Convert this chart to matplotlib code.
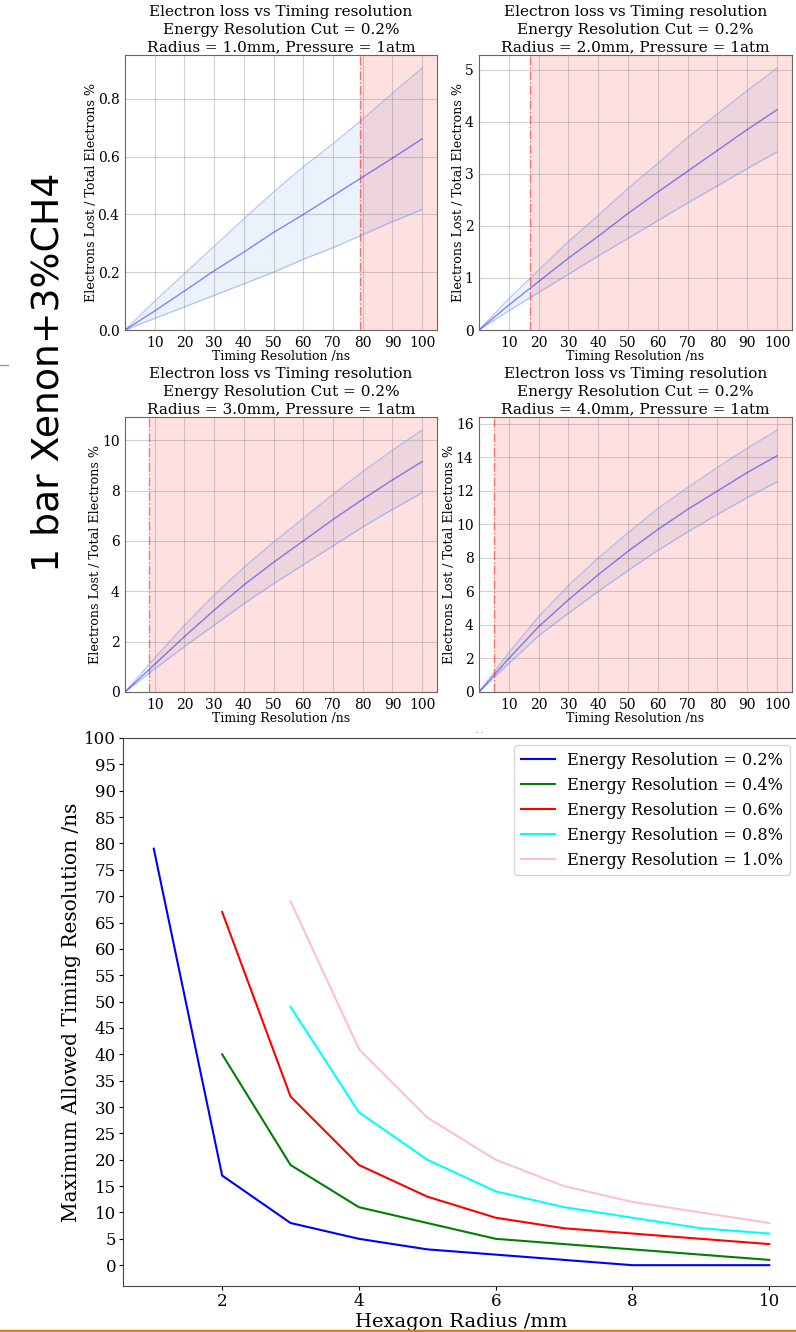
import numpy as np
from matplotlib import pyplot as plt
from matplotlib.lines import Line2D

plt.rcParams['font.family'] = ['DejaVu Serif']

# timing resolution samples (ns) for the electron loss curves
timing = [0, 10, 20, 30, 40, 50, 60, 70, 80, 90, 100]

radii = [1.0, 2.0, 3.0, 4.0]
cuts = [79, 17, 8, 5]

loss_mean = [
	[0, 0.066, 0.135, 0.205, 0.27, 0.338, 0.40, 0.465, 0.53, 0.595, 0.662],
	[0, 0.48, 0.93, 1.38, 1.80, 2.24, 2.65, 3.05, 3.45, 3.85, 4.23],
	[0, 1.10, 2.20, 3.25, 4.25, 5.15, 6.00, 6.85, 7.65, 8.42, 9.15],
	[0, 2.00, 3.90, 5.50, 7.00, 8.40, 9.70, 10.90, 12.00, 13.10, 14.10],
]
loss_upper = [
	[0, 0.10, 0.195, 0.29, 0.385, 0.478, 0.565, 0.645, 0.73, 0.82, 0.907],
	[0, 0.60, 1.15, 1.70, 2.20, 2.72, 3.20, 3.70, 4.15, 4.60, 5.03],
	[0, 1.35, 2.65, 3.85, 4.95, 5.95, 6.90, 7.85, 8.75, 9.60, 10.40],
	[0, 2.35, 4.50, 6.35, 8.00, 9.50, 10.95, 12.20, 13.40, 14.55, 15.63],
]
loss_lower = [
	[0, 0.04, 0.08, 0.12, 0.16, 0.20, 0.245, 0.285, 0.33, 0.375, 0.417],
	[0, 0.37, 0.72, 1.07, 1.42, 1.76, 2.10, 2.44, 2.77, 3.10, 3.42],
	[0, 0.92, 1.80, 2.65, 3.50, 4.30, 5.05, 5.80, 6.55, 7.25, 7.91],
	[0, 1.70, 3.35, 4.70, 6.00, 7.25, 8.45, 9.55, 10.60, 11.60, 12.55],
]

# maximum allowed timing resolution vs hexagon radius
res_labels = ['0.2%', '0.4%', '0.6%', '0.8%', '1.0%']
res_colors = ['blue', 'green', 'red', 'cyan', 'pink']
radius_02 = [1, 2, 3, 4, 5, 6, 7, 8, 9, 10]
tmax_02 = [79, 17, 8, 5, 3, 2, 1, 0, 0, 0]
radius_04 = [2, 3, 4, 5, 6, 7, 8, 9, 10]
tmax_04 = [40, 19, 11, 8, 5, 4, 3, 2, 1]
radius_06 = [2, 3, 4, 5, 6, 7, 8, 9, 10]
tmax_06 = [67, 32, 19, 13, 9, 7, 6, 5, 4]
radius_08 = [3, 4, 5, 6, 7, 8, 9, 10]
tmax_08 = [49, 29, 20, 14, 11, 9, 7, 6]
radius_10 = [3, 4, 5, 6, 7, 8, 9, 10]
tmax_10 = [69, 41, 28, 20, 15, 12, 10, 8]
radius_sets = [radius_02, radius_04, radius_06, radius_08, radius_10]
tmax_sets = [tmax_02, tmax_04, tmax_06, tmax_08, tmax_10]

W, H = 796, 1332
fig = plt.figure(figsize=(W/100, H/100), dpi=100)

def box(l, t, r, b):
	return [l/W, 1-b/H, (r-l)/W, (b-t)/H]

panels = [box(125, 55, 437, 330), box(479, 55, 792, 330),
	box(125, 417, 437, 692), box(479, 417, 792, 692)]

for i, pos in enumerate(panels):
	ax = fig.add_axes(pos)
	ax.fill_between(timing, loss_lower[i], loss_upper[i], color='cornflowerblue', alpha=0.12, lw=0)
	ax.plot(timing, loss_upper[i], color='cornflowerblue', alpha=0.45, lw=1)
	ax.plot(timing, loss_lower[i], color='cornflowerblue', alpha=0.45, lw=1)
	ax.plot(timing, loss_mean[i], color='blue', alpha=0.45, lw=1)
	ax.set_xlim(0, 105)
	ax.set_ylim(bottom=0)
	ax.axvline(cuts[i], color='red', ls='-.', lw=1, alpha=0.5)
	ax.axvspan(cuts[i], 105, color='red', alpha=0.12, lw=0)
	ax.set_xticks(range(10, 101, 10))
	ax.grid(True, color='gray', alpha=0.35)
	ax.tick_params(labelsize=10, length=0, pad=4)
	for s in ax.spines.values():
		s.set_color('#666666')
	ax.set_xlabel('Timing Resolution /ns', fontsize=9, labelpad=0)
	ax.set_ylabel('Electrons Lost / Total Electrons %', fontsize=9.2, labelpad=0)
	ax.set_title('Electron loss vs Timing resolution\nEnergy Resolution Cut = 0.2%%\n'
		'Radius = %.1fmm, Pressure = 1atm' % radii[i], fontsize=11, linespacing=1.3, pad=3)

fig.text(49/W, 1-372/H, '1 bar Xenon+3%CH4', rotation=90, ha='center', va='center',
	fontsize=27.2, family='DejaVu Sans')
fig.add_artist(Line2D([0, 8/W], [1-365/H, 1-365/H], color='#999999', lw=1))
fig.text(479/W, 1-733/H, '- -', ha='center', va='center', fontsize=5, color='#888888')

# summary panel
ax = fig.add_axes(box(123, 738, 800, 1286))
for r, t, lab, c in zip(radius_sets, tmax_sets, res_labels, res_colors):
	ax.plot(r, t, color=c, lw=1.5, label='Energy Resolution = ' + lab)
ax.set_xlim(0.55, 10.45)
ax.set_ylim(-3.95, 100)
ax.set_yticks(range(0, 101, 5))
ax.set_xticks([2, 4, 6, 8, 10])
ax.tick_params(labelsize=12, length=3, pad=2)
for s in ax.spines.values():
	s.set_color('#444444')
ax.set_xlabel('Hexagon Radius /mm', fontsize=14, labelpad=2)
ax.set_ylabel('Maximum Allowed Timing Resolution /ns', fontsize=14.5, labelpad=2)
ax.legend(loc='upper right', fontsize=11.6, handlelength=2.1, bbox_to_anchor=(0.985, 0.987),
	borderaxespad=0)

fig.add_artist(Line2D([0, 1], [1-1330.5/H, 1-1330.5/H], color='#e07b10', lw=2.5))

fig.savefig('out.png', dpi=100)
